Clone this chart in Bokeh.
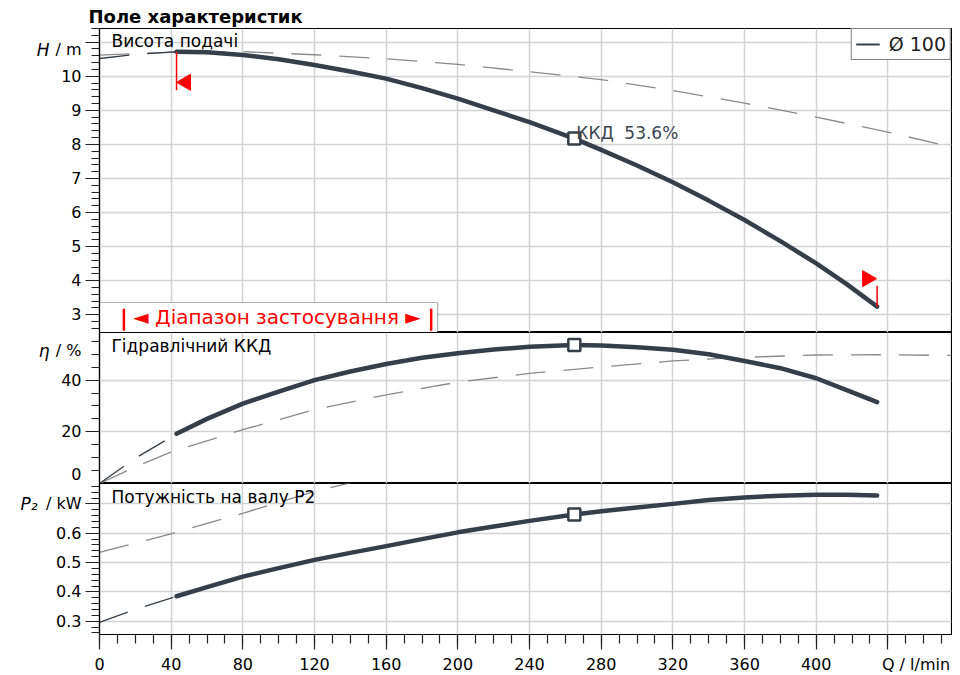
import math
from bokeh.plotting import figure
from bokeh.layouts import column
from bokeh.models import (Label, Legend, LegendItem, BoxAnnotation, Range1d,
                          FixedTicker, LinearAxis)
from bokeh.embed import file_html
from bokeh.resources import INLINE

# ---------------- data ----------------
q_main = [43, 60, 80, 100, 120, 140, 160, 180, 200, 220, 240, 265, 280, 300,
          320, 340, 360, 380, 400, 417, 434]
h_main = [10.72, 10.70, 10.62, 10.50, 10.33, 10.14, 9.93, 9.65, 9.34, 9.00,
          8.65, 8.17, 7.84, 7.38, 6.89, 6.35, 5.78, 5.16, 4.51, 3.90, 3.24]
eta_main = [19.2, 25.0, 30.9, 35.5, 40.0, 43.3, 46.2, 48.6, 50.4, 51.8, 52.9,
            53.6, 53.4, 52.7, 51.7, 50.0, 47.4, 44.6, 40.7, 36.1, 31.5]
p2_main = [0.385, 0.416, 0.452, 0.481, 0.509, 0.533, 0.556, 0.580, 0.603,
           0.623, 0.642, 0.664, 0.675, 0.688, 0.700, 0.713, 0.722, 0.728,
           0.731, 0.731, 0.729]

q_ext = [0, 20, 43]
h_ext = [10.52, 10.64, 10.72]
eta_ext = [0.0, 9.8, 19.2]
p2_ext = [0.296, 0.340, 0.385]

q_alt_h = [0, 40, 80, 120, 160, 200, 240, 280, 320, 360, 400, 440, 475]
h_alt = [10.62, 10.70, 10.72, 10.63, 10.51, 10.35, 10.13, 9.90, 9.58, 9.21,
         8.80, 8.36, 7.93]
q_alt_eta = [0, 20, 40, 80, 120, 160, 200, 240, 280, 320, 360, 400, 440, 475]
eta_alt = [0.0, 6.4, 12.2, 20.8, 28.6, 34.3, 39.2, 42.6, 45.1, 47.4, 48.8,
           49.7, 49.8, 49.5]
q_alt_p2 = [0, 40, 80, 120, 140]
p2_alt = [0.535, 0.598, 0.668, 0.742, 0.772]

bep_q = [265]
bep_h = [8.17]
bep_eta = [53.6]
bep_p2 = [0.664]
bep_name = "ККД"
bep_value = "53.6%"

q_min = 43
q_max = 434

x_ticks = [0, 40, 80, 120, 160, 200, 240, 280, 320, 360, 400, 440]
x_minor = list(range(0, 480, 10))
h_ticks = [3, 4, 5, 6, 7, 8, 9, 10, 11]
h_minor = [round(2.6 + 0.2 * i, 1) for i in range(45)]
eta_ticks = [0, 20, 40]
eta_minor = list(range(0, 60, 5))
p2_ticks = [0.3, 0.4, 0.5, 0.6, 0.7]
p2_minor = [round(0.26 + 0.02 * i, 2) for i in range(26)]

title_text = "Поле характеристик"
legend_text = "Ø 100"
range_text = "◄ Діапазон застосування ►"

# ---------------- styling ----------------
FONT = "DejaVu Sans"
DARK = "#343f4a"
GRAY = "#8a8a8a"
GRID = "#d2d2d2"
RED = "#ff0000"
FW = 852
BL = 99

xr = Range1d(0, 475.5)


def style_ticks_only(ax, major, minor, tick_out, minor_out):
    ax.ticker = FixedTicker(ticks=major, minor_ticks=minor)
    ax.major_tick_in = 0
    ax.major_tick_out = tick_out
    ax.minor_tick_in = 0
    ax.minor_tick_out = minor_out
    ax.axis_line_color = "black"
    ax.axis_line_width = 1.2
    ax.major_tick_line_color = "#222222"
    ax.minor_tick_line_color = "#222222"
    ax.major_tick_line_width = 1.2
    ax.minor_tick_line_width = 1.2
    ax.major_label_text_font_size = "0px"
    ax.major_label_standoff = 0
    ax.major_label_overrides = {t: "" for t in major}


def label_axis(ticks, overrides, standoff, size="16px", style="normal"):
    ax = LinearAxis(ticker=FixedTicker(ticks=ticks, minor_ticks=[]))
    ax.major_tick_in = 0
    ax.major_tick_out = 0
    ax.minor_tick_in = 0
    ax.minor_tick_out = 0
    ax.axis_line_color = None
    ax.major_tick_line_color = None
    ax.minor_tick_line_color = None
    ax.major_label_text_font = FONT
    ax.major_label_text_font_size = size
    ax.major_label_text_font_style = style
    ax.major_label_text_color = "black"
    ax.major_label_standoff = standoff
    ax.major_label_overrides = overrides
    return ax


def make_fig(frame_h, top, yr, yticks, yminor, with_xaxis, title=None):
    p = figure(frame_width=FW, frame_height=frame_h, x_range=xr, y_range=yr,
               output_backend="svg", toolbar_location=None, title=title,
               min_border_left=BL, min_border_right=1,
               min_border_top=top, min_border_bottom=0,
               x_axis_location="below" if with_xaxis else None)
    p.outline_line_color = "black"
    p.outline_line_width = 1.2
    p.background_fill_color = "white"
    p.border_fill_color = "white"
    style_ticks_only(p.yaxis[0], yticks, yminor, 14, 8)
    p.ygrid.ticker = FixedTicker(ticks=yticks)
    p.xgrid.ticker = FixedTicker(ticks=x_ticks)
    for g in (p.xgrid[0], p.ygrid[0]):
        g.grid_line_color = GRID
        g.grid_line_width = 1.5
    if with_xaxis:
        style_ticks_only(p.xaxis[0], x_ticks, x_minor, 15, 9)
    return p


def add_yaxis_labels(p, numbers, unit_pos, unit_text, letter, extra=None,
                     letter_gap=3):
    ov = {unit_pos: unit_text}
    if extra:
        ov.update(extra)
    ticks = list(numbers) + [unit_pos] + (list(extra.keys()) if extra else [])
    p.add_layout(label_axis(ticks, ov, 4), "left")
    p.add_layout(label_axis([unit_pos], {unit_pos: letter}, letter_gap,
                            size="17px", style="italic"), "left")


def lbl(p, text, x, y, size="17px", align="left", color="black"):
    p.add_layout(Label(x=x, y=y, x_units="screen", y_units="screen",
                       text=text, text_font=FONT, text_font_size=size,
                       text_align=align, text_baseline="middle",
                       text_color=color))


def curves(p, qa, ya, qe, ye, qm, ym, bq, by):
    p.line(qa, ya, line_color=GRAY, line_width=1.3, line_dash="30 18")
    p.line(qe, ye, line_color=DARK, line_width=1.3, line_dash="30 18")
    thin = p.line(qm, ym, line_color=DARK, line_width=2)
    p.line(qm, ym, line_color=DARK, line_width=4.5, line_cap="round",
           line_join="round")
    p.scatter(bq, by, marker="square", size=12, fill_color="white",
              line_color=DARK, line_width=2.5)
    return thin


# ---------------- panel 1: head ----------------
H1 = 304
p1 = make_fig(H1, 28, Range1d(2.48, 11.40), h_ticks, h_minor, False,
              title=title_text)
p1.title.align = "left"
p1.title.offset = -11
p1.title.text_font = FONT
p1.title.text_font_size = "18px"
p1.title.text_font_style = "bold"
p1.title.text_color = "black"
p1.title.standoff = 4
add_yaxis_labels(p1, h_ticks[:-1], 10.78, "/ m", "H")

rng_box = BoxAnnotation(left=0, right=188.7, bottom=2.48, top=3.36,
                        fill_color="white", fill_alpha=1.0,
                        line_color="black", line_width=1.2, level="underlay")
p1.add_layout(rng_box)
thin_h = curves(p1, q_alt_h, h_alt, q_ext, h_ext, q_main, h_main, bep_q, bep_h)

# operating range markers (red)
p1.segment(x0=[q_min, q_max], y0=[h_main[0], h_main[-1]],
           x1=[q_min, q_max], y1=[h_main[0] - 1.13, h_main[-1] + 0.61],
           line_color=RED, line_width=1.5)
p1.scatter(x=[q_min + 5.2], y=[9.82], marker="triangle", size=16,
           angle=math.pi / 2, color=RED)
p1.scatter(x=[q_max - 5.5], y=[4.06], marker="triangle", size=16,
           angle=-math.pi / 2, color=RED)
p1.segment(x0=[13.6, 185.1], y0=[2.53, 2.53], x1=[13.6, 185.1],
           y1=[3.18, 3.18], line_color=RED, line_width=2.5)
lbl(p1, range_text, 177.5, 16, size="20px", align="center", color=RED)

for txt, dx in ((bep_name, 2), (bep_value, 50)):
    p1.add_layout(Label(x=bep_q[0], y=bep_h[0], text=txt, x_offset=dx,
                        y_offset=6, text_font=FONT, text_font_size="17px",
                        text_baseline="alphabetic", text_color="#3b4550"))

legend = Legend(items=[LegendItem(label=legend_text, renderers=[thin_h])],
                location="top_right", margin=0, padding=4, spacing=0,
                glyph_width=24, glyph_height=16, label_standoff=9,
                label_text_font=FONT, label_text_font_size="19px",
                label_text_color="#222222",
                border_line_color="black", border_line_width=1.2,
                background_fill_color="white", background_fill_alpha=1.0)
p1.add_layout(legend)
lbl(p1, "Висота подачі", 12, H1 - 12.5)

# ---------------- panel 2: efficiency ----------------
H2 = 151
p2 = make_fig(H2, 0, Range1d(0, 58.4), eta_ticks, eta_minor, False)
add_yaxis_labels(p2, eta_ticks[1:], 51.4, "/ %", "η", extra={3.6: "0"})
curves(p2, q_alt_eta, eta_alt, q_ext, eta_ext, q_main, eta_main, bep_q, bep_eta)
lbl(p2, "Гідравлічний ККД", 12, H2 - 13)

# ---------------- panel 3: power ----------------
H3 = 151
p3 = make_fig(H3, 0, Range1d(0.2547, 0.7695), p2_ticks, p2_minor, True)
add_yaxis_labels(p3, p2_ticks[:-1], 0.7, "/ kW", "P₂", letter_gap=5)
p3.add_layout(label_axis(x_ticks[:-1] + [455.7], {455.7: "Q / l/min"}, 5),
              "below")
curves(p3, q_alt_p2, p2_alt, q_ext, p2_ext, q_main, p2_main, bep_q, bep_p2)
lbl(p3, "Потужність на валу P2", 12, H3 - 13)

layout = column(p1, p2, p3, spacing=0)
open("out.html", "w").write(file_html(layout, INLINE))
